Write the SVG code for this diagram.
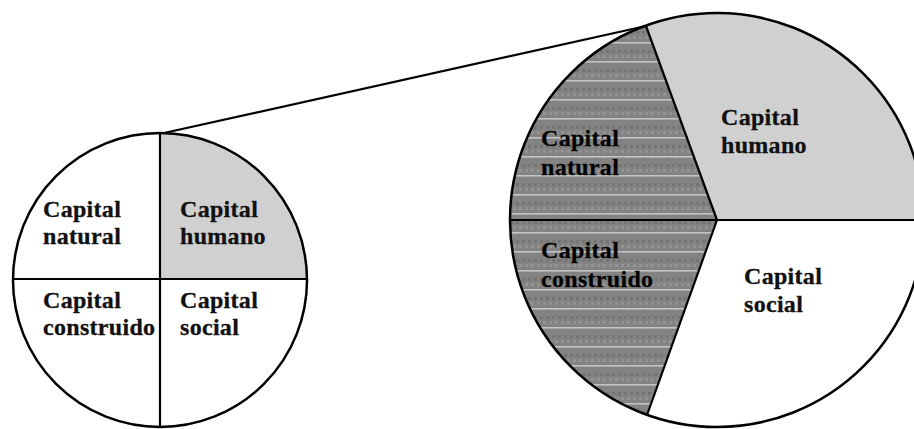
<svg xmlns="http://www.w3.org/2000/svg" width="914" height="429" viewBox="0 0 914 429">
  <style>
    .lbl { font-family: "Liberation Serif", "Times New Roman", serif; font-weight: bold; font-size: 24px; letter-spacing: 0.3px; fill: #111; stroke: #111; stroke-width: 0.3; }
    .ring { fill: none; stroke: #000; stroke-width: 2.5; }
    .div { stroke: #000; stroke-width: 2.2; fill: none; }
    .light { fill: #d0d0d0; }
    .dark { fill: url(#streaks); }
    .white { fill: #fff; }
  </style>
  <defs>
    <pattern id="streaks" patternUnits="userSpaceOnUse" x="0" y="4" width="6" height="19">
      <rect width="6" height="19" fill="#838383"/>
      <rect y="0" width="6" height="1.6" fill="#c4c4c4"/>
      <rect x="0" y="8" width="3" height="3" fill="#747474"/>
      <rect x="3" y="13" width="3" height="3" fill="#939393"/>
    </pattern>
  </defs>
  <rect width="914" height="429" fill="#fff"/>

  <g id="small-pie">
    <circle cx="160" cy="280" r="147" class="white"/>
    <path class="light" d="M160,280 L160,133 A147,147 0 0 1 307,280 Z"/>
    <circle cx="160" cy="280" r="147" class="ring"/>
    <line class="div" x1="160" y1="133" x2="160" y2="427"/>
    <line class="div" x1="13" y1="279" x2="307" y2="279"/>
  </g>
  <g id="small-natural">
    <text class="lbl" x="43" y="217">Capital</text>
    <text class="lbl" x="43" y="244">natural</text>
  </g>
  <g id="small-humano">
    <text class="lbl" x="180" y="217">Capital</text>
    <text class="lbl" x="180" y="244">humano</text>
  </g>
  <g id="small-construido">
    <text class="lbl" x="43" y="308">Capital</text>
    <text class="lbl" x="43" y="335">construido</text>
  </g>
  <g id="small-social">
    <text class="lbl" x="180" y="308">Capital</text>
    <text class="lbl" x="180" y="335">social</text>
  </g>

  <g id="big-pie">
    <path id="big-humano-sector" class="light" d="M717,220 L646,26 A207,207 0 0 1 924,220 Z"/>
    <path id="big-social-sector" class="white" d="M717,220 L924,220 A207,207 0 0 1 647,415 Z"/>
    <path id="big-natural-sector" class="dark" d="M717,220 L510,220 A207,207 0 0 1 646,26 Z"/>
    <path id="big-construido-sector" class="dark" d="M717,220 L647,415 A207,207 0 0 1 510,220 Z"/>
    <circle cx="717" cy="220" r="207" class="ring"/>
    <line class="div" x1="717" y1="220" x2="646" y2="26"/>
    <line class="div" x1="717" y1="220" x2="647" y2="415"/>
    <line class="div" x1="510" y1="220" x2="914" y2="220"/>
  </g>
  <g id="big-humano">
    <text class="lbl" x="721" y="125">Capital</text>
    <text class="lbl" x="721" y="153">humano</text>
  </g>
  <g id="big-natural">
    <text class="lbl" x="541" y="146" style="fill:#000">Capital</text>
    <text class="lbl" x="541" y="175" style="fill:#000">natural</text>
  </g>
  <g id="big-construido">
    <text class="lbl" x="541" y="258" style="fill:#000">Capital</text>
    <text class="lbl" x="541" y="287" style="fill:#000">construido</text>
  </g>
  <g id="big-social">
    <text class="lbl" x="744" y="284">Capital</text>
    <text class="lbl" x="744" y="312">social</text>
  </g>

  <g id="connectors">
    <line class="div" x1="164" y1="133" x2="646" y2="26"/>
  </g>
</svg>
